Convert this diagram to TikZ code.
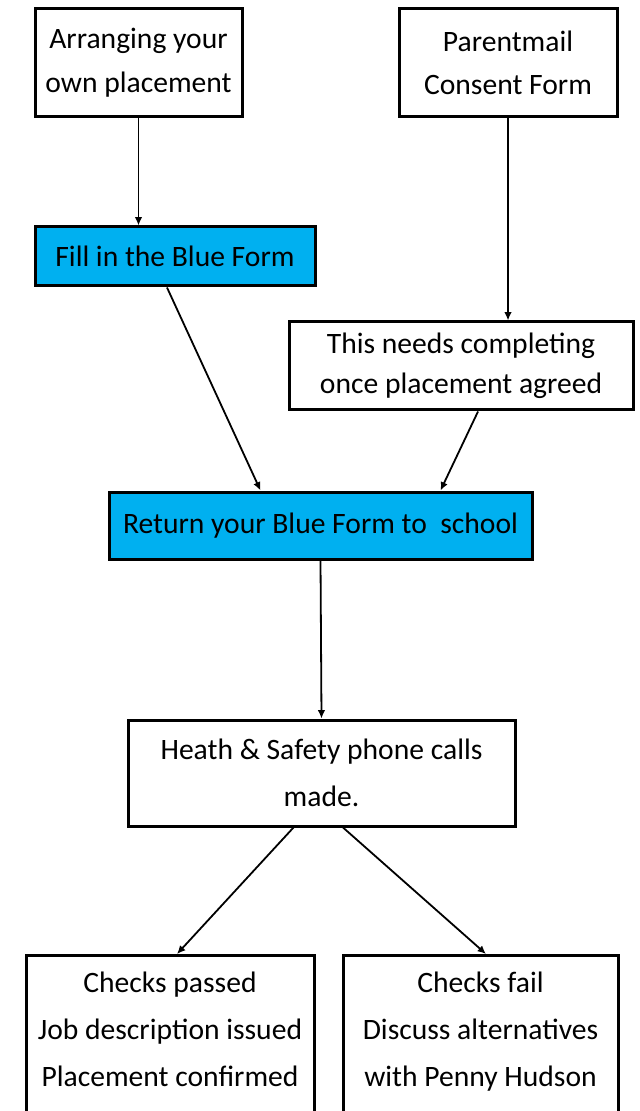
\documentclass[tikz,border=0pt]{standalone}
\usepackage{fontspec}
\setmainfont{Carlito}
\usetikzlibrary{arrows.meta}
\definecolor{formblue}{HTML}{00B0F0}

\begin{document}
\begin{tikzpicture}[x=0.5pt,y=-0.5pt,>={Latex[length=4.2pt,width=3.8pt]}]
\tikzset{box/.style={draw,line width=1.5pt,align=center,inner sep=0pt,font=\fontsize{14.8}{22}\selectfont},
bluebox/.style={box,fill=formblue},
link/.style={->,line width=0.9pt}}
\useasboundingbox (0,0) rectangle (640,1111);
\node[box,minimum width=103.5pt,minimum height=54pt] (arrange) at (138.5,63) {Arranging your\\own placement};
\node[box,minimum width=109pt,minimum height=54pt,font=\fontsize{14.8}{21.5}\selectfont] (parent) at (508,63) {Parentmail\\Consent Form};
\node[bluebox,minimum width=140pt,minimum height=29.5pt] (fill) at (175,256.5) {Fill in the Blue Form};
\node[box,minimum width=172pt,minimum height=44pt,font=\fontsize{14.8}{20}\selectfont] (needs) at (461,366) {This needs completing\\once placement agreed};
\node[bluebox,minimum width=211.5pt,minimum height=33.5pt] (return) at (320.5,525.5) {Return your Blue Form to\ \ school};
\node[box,minimum width=193.5pt,minimum height=53pt,font=\fontsize{14.8}{23.5}\selectfont] (heath) at (321.5,773) {Heath \& Safety phone calls\\made.};
\node[box,anchor=north,inner ysep=8pt,minimum width=144pt,font=\fontsize{14.8}{23.5}\selectfont] (pass) at (170,954) {Checks passed\\Job description issued\\Placement confirmed\rule[-30pt]{0pt}{30pt}};
\node[box,anchor=north,inner ysep=8pt,minimum width=137.5pt,font=\fontsize{14.8}{23.5}\selectfont] (fail) at (480.5,954) {Checks fail\\Discuss alternatives\\with Penny Hudson\rule[-30pt]{0pt}{30pt}};
\draw[link] (arrange.south) -- (arrange.south |- fill.north);
\draw[link] (parent.south) -- (parent.south |- needs.north);
\draw[link] ([xshift=-4pt]fill.south) -- ([xshift=-30pt]return.north);
\draw[link] ([xshift=8.5pt]needs.south) -- ([xshift=60pt]return.north);
\draw[link] (return.south) -- (heath.north);
\draw[link] ([xshift=-14pt]heath.south) -- ([xshift=3.5pt]pass.north);
\draw[link] ([xshift=10.75pt]heath.south) -- ([xshift=2.75pt]fail.north);
\end{tikzpicture}
\end{document}
